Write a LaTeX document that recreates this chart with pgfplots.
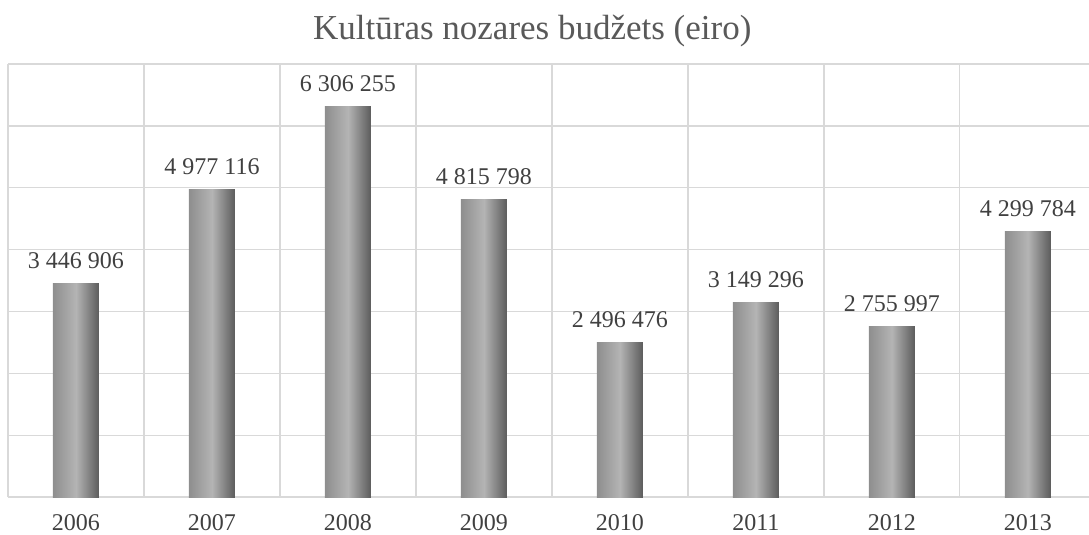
\documentclass[border=0pt]{standalone}
\usepackage{fontspec}
\setmainfont{Liberation Serif}
\usepackage{pgfplots}
\pgfplotsset{compat=1.18}
\definecolor{gridc}{HTML}{D9D9D9}
\definecolor{txt}{HTML}{404040}
\definecolor{titlec}{HTML}{595959}
\definecolor{barL}{HTML}{8E8E8E}
\definecolor{barM}{HTML}{B4B4B4}
\definecolor{barR}{HTML}{5C5C5C}
\pgfplotsset{
    bevelbar/.style={draw=none, bar shift=0pt, left color=barL, right color=barR, middle color=barM},
}
\begin{document}
\begin{tikzpicture}
\begin{axis}[
    scale only axis,
    width=1081pt, height=433pt,
    xmin=-0.5, xmax=7.45,
    ymin=0, ymax=7000000,
    ybar, bar width=46pt,
    axis line style={draw=none},
    tick style={draw=none},
    xtick={0,...,7},
    xticklabels={2006,2007,2008,2009,2010,2011,2012,2013},
    minor xtick={-0.5,0.5,1.5,2.5,3.5,4.5,5.5,6.5},
    xminorgrids,
    ytick={0,1000000,2000000,3000000,4000000,5000000,6000000,7000000},
    yticklabels={},
    scaled y ticks=false,
    ymajorgrids,
    grid style={gridc, line width=1.3pt},
    minor grid style={gridc, line width=1.3pt},
    xticklabel style={font=\fontsize{24}{28}\selectfont, text=txt, anchor=base, inner sep=0pt, yshift=-29pt},
    title={Kultūras nozares budžets (eiro)},
    title style={font=\fontsize{35}{40}\selectfont, text=titlec, at={(axis description cs:0.485,1)}, anchor=base, inner sep=0pt, yshift=18pt},
    point meta=explicit symbolic,
    nodes near coords={\pgfplotspointmeta},
    every node near coord/.append style={font=\fontsize{24}{28}\selectfont, text=txt, anchor=base, inner sep=0pt, yshift=15pt},
]
\addplot[bevelbar] coordinates {(0,3446906) [3 446 906]};
\addplot[bevelbar] coordinates {(1,4977116) [4 977 116]};
\addplot[bevelbar] coordinates {(2,6306255) [6 306 255]};
\addplot[bevelbar] coordinates {(3,4815798) [4 815 798]};
\addplot[bevelbar] coordinates {(4,2496476) [2 496 476]};
\addplot[bevelbar] coordinates {(5,3149296) [3 149 296]};
\addplot[bevelbar] coordinates {(6,2755997) [2 755 997]};
\addplot[bevelbar] coordinates {(7,4299784) [4 299 784]};
\end{axis}
\pgfresetboundingbox
\path ([xshift=-8pt,yshift=-37pt]current axis.south west) rectangle ([yshift=64pt]current axis.north east);
\end{tikzpicture}
\end{document}
